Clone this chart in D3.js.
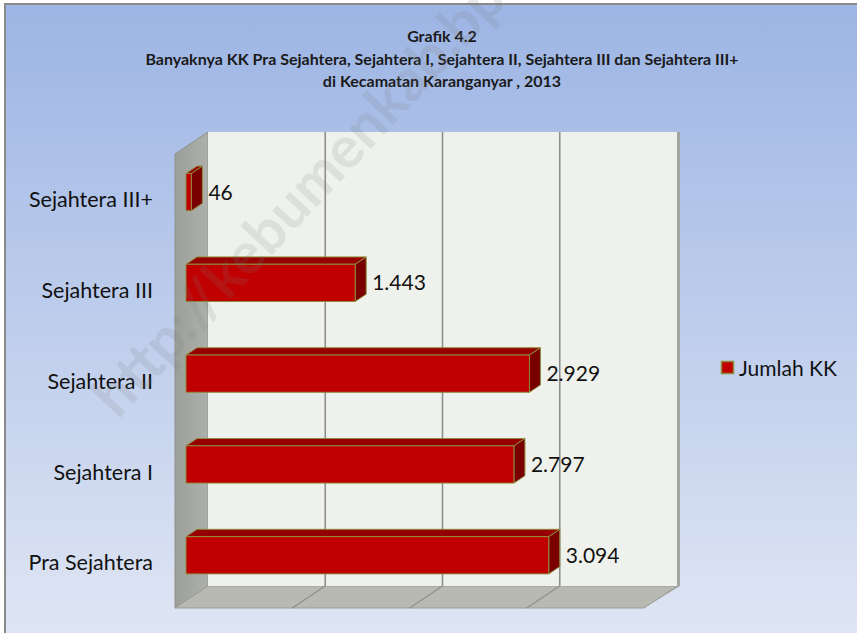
<!DOCTYPE html>
<html>
<head>
<meta charset="utf-8">
<script src="https://cdn.jsdelivr.net/npm/d3@7"></script>
<style>
  html, body { margin: 0; padding: 0; background: #fff; }
  svg { display: block; }
</style>
</head>
<body>
<div id="chart"></div>
<script>
// data
var categories = ["Sejahtera III+", "Sejahtera III", "Sejahtera II", "Sejahtera I", "Pra Sejahtera"];
var values = [46, 1443, 2929, 2797, 3094];
var xTicks = [0, 1000, 2000, 3000, 4000];
var seriesName = "Jumlah KK";
var titleLines = [
  "Grafik 4.2",
  "Banyaknya KK Pra Sejahtera, Sejahtera I, Sejahtera II, Sejahtera III dan Sejahtera III+",
  "di Kecamatan Karanganyar , 2013"
];

var W = 857, H = 633;
var font = "Lato, 'Open Sans', sans-serif";

// front plane of the 3d box, and the depth shift to the back wall
var ox = 175, oy = 154;
var plotW = 469, plotH = 454;
var dx = 33, dy = -22;
var z1 = 1 / 3, z2 = 2 / 3;   // bar depth slab

var id = d3.formatLocale({ decimal: ",", thousands: ".", grouping: [3], currency: ["Rp", ""] });
var fmt = id.format(",d");

var x = d3.scaleLinear().domain([0, 4000]).range([0, plotW]);
var y = d3.scaleBand().domain(categories).range([0, plotH])
  .paddingInner(0.59).paddingOuter(0.295);

function P(px, py, z) {
  return [ox + px + dx * z, oy + py + dy * z];
}
function poly(pts) {
  return "M" + pts.map(function (p) { return p[0] + "," + p[1]; }).join("L") + "Z";
}

var svg = d3.select("#chart").append("svg")
  .attr("width", W).attr("height", H);

var defs = svg.append("defs");
var bg = defs.append("linearGradient").attr("id", "bg")
  .attr("x1", 0).attr("y1", 0).attr("x2", 0).attr("y2", 1);
bg.append("stop").attr("offset", "0%").attr("stop-color", "#9db5e4");
bg.append("stop").attr("offset", "100%").attr("stop-color", "#e0e6f4");

var sideG = defs.append("linearGradient").attr("id", "side")
  .attr("x1", 0).attr("y1", 0).attr("x2", 1).attr("y2", 0);
sideG.append("stop").attr("offset", "0%").attr("stop-color", "#9c9f99");
sideG.append("stop").attr("offset", "100%").attr("stop-color", "#aeb1ab");

svg.append("rect").attr("x", 0).attr("y", 0).attr("width", W).attr("height", H)
  .attr("fill", "#ffffff");
svg.append("rect").attr("x", 5).attr("y", 4).attr("width", W + 10).attr("height", H + 10)
  .attr("fill", "url(#bg)").attr("stroke", "#8a8a8a").attr("stroke-width", 2);

// title
var title = svg.append("text")
  .attr("text-anchor", "middle")
  .style("font-family", font).style("font-weight", "bold")
  .style("font-size", "16px").attr("fill", "#1a1a1a");
titleLines.forEach(function (t, i) {
  title.append("tspan").attr("x", 442).attr("y", 42 + i * 22.5).text(t);
});

// walls
var g = svg.append("g");

// side wall (left)
g.append("path")
  .attr("d", poly([P(0, 0, 0), P(0, 0, 1), P(0, plotH, 1), P(0, plotH, 0)]))
  .attr("fill", "url(#side)").attr("stroke", "#8f918c").attr("stroke-width", 1);

// floor
g.append("path")
  .attr("d", poly([P(0, plotH, 0), P(0, plotH, 1), P(plotW, plotH, 1), P(plotW, plotH, 0)]))
  .attr("fill", "#b8bab2").attr("stroke", "#9a9c96").attr("stroke-width", 1);

// back wall
var b0 = P(0, 0, 1);
g.append("rect").attr("x", b0[0]).attr("y", b0[1])
  .attr("width", plotW).attr("height", plotH)
  .attr("fill", "#eff2ec");

// right edge of the back wall
g.append("path")
  .attr("d", poly([P(plotW, 0, 1), [P(plotW, 0, 1)[0] + 3, P(plotW, 0, 1)[1]],
    [P(plotW, plotH, 1)[0] + 3, P(plotW, plotH, 1)[1]], P(plotW, plotH, 0), P(plotW, plotH, 1)]))
  .attr("fill", "#a3a5a0");

// gridlines on wall and floor
xTicks.slice(1, -1).forEach(function (t) {
  var top = P(x(t), 0, 1), bot = P(x(t), plotH, 1), fr = P(x(t), plotH, 0);
  g.append("line").attr("x1", top[0]).attr("y1", top[1]).attr("x2", bot[0]).attr("y2", bot[1])
    .attr("stroke", "#8e8e8e").attr("stroke-width", 1.6);
  g.append("line").attr("x1", bot[0]).attr("y1", bot[1]).attr("x2", fr[0]).attr("y2", fr[1])
    .attr("stroke", "#8e8e8e").attr("stroke-width", 1.2);
});

// bars
var barStroke = "#8c8c3c";
categories.forEach(function (c, i) {
  var v = values[i];
  var y0 = y(c), y1 = y(c) + y.bandwidth(), xv = x(v);
  var bar = g.append("g");
  bar.append("path")
    .attr("d", poly([P(0, y0, z1), P(0, y0, z2), P(xv, y0, z2), P(xv, y0, z1)]))
    .attr("fill", "#960000").attr("stroke", barStroke).attr("stroke-width", 1);
  bar.append("path")
    .attr("d", poly([P(xv, y0, z1), P(xv, y0, z2), P(xv, y1, z2), P(xv, y1, z1)]))
    .attr("fill", "#7a0000").attr("stroke", barStroke).attr("stroke-width", 1);
  bar.append("path")
    .attr("d", poly([P(0, y0, z1), P(xv, y0, z1), P(xv, y1, z1), P(0, y1, z1)]))
    .attr("fill", "#c00000").attr("stroke", barStroke).attr("stroke-width", 1);

  var lp = P(xv, (y0 + y1) / 2, z2);
  g.append("text")
    .attr("x", lp[0] + 6).attr("y", P(xv, (y0 + y1) / 2, z1)[1])
    .attr("dy", "0.36em")
    .style("font-family", font).style("font-size", "21px").attr("fill", "#111")
    .text(fmt(v));
});

// category labels
categories.forEach(function (c) {
  svg.append("text")
    .attr("x", 153).attr("y", oy + y(c) + y.bandwidth() / 2)
    .attr("dy", "0.36em").attr("text-anchor", "end")
    .style("font-family", font).style("font-size", "21.5px").attr("fill", "#111")
    .text(c);
});

// legend
svg.append("rect").attr("x", 721.5).attr("y", 361.5).attr("width", 12).attr("height", 12)
  .attr("fill", "#c00000").attr("stroke", barStroke).attr("stroke-width", 1.5);
svg.append("text").attr("x", 739).attr("y", 368).attr("dy", "0.36em")
  .style("font-family", font).style("font-size", "21px").attr("fill", "#111")
  .text(seriesName);

// watermark
svg.append("text")
  .attr("transform", "translate(118,420) rotate(-47)")
  .style("font-family", font).style("font-weight", "bold").style("font-size", "58px")
  .attr("fill", "#7a7a7a").attr("fill-opacity", 0.16)
  .text("http://kebumenkab.bps.go.id");
</script>
</body>
</html>
